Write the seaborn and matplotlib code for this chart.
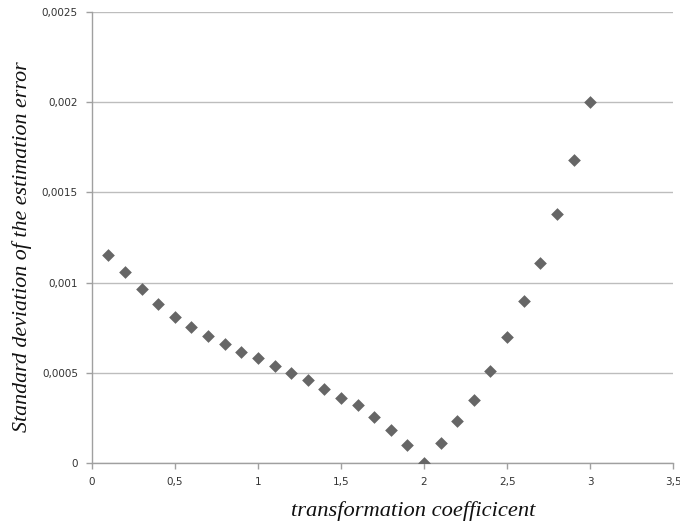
import matplotlib
matplotlib.use("Agg")
import matplotlib.pyplot as plt
import seaborn as sns
import pandas as pd
from matplotlib.ticker import FuncFormatter, MultipleLocator

coef = [0.1, 0.2, 0.3, 0.4, 0.5, 0.6, 0.7, 0.8, 0.9, 1.0,
        1.1, 1.2, 1.3, 1.4, 1.5, 1.6, 1.7, 1.8, 1.9, 2.0,
        2.1, 2.2, 2.3, 2.4, 2.5, 2.6, 2.7, 2.8, 2.9, 3.0]
std_err = [0.00115, 0.00106, 0.000965, 0.00088, 0.00081, 0.000754, 0.000704, 0.00066, 0.000615, 0.000582,
           0.000538, 0.0005, 0.00046, 0.00041, 0.00036, 0.00032, 0.000255, 0.000183, 0.0001, 0.0,
           0.00011, 0.00023, 0.00035, 0.00051, 0.0007, 0.0009, 0.00111, 0.00138, 0.00168, 0.002]

df = pd.DataFrame({"coef": coef, "std": std_err})

sns.set_style("white")
plt.rcParams['font.family'] = ['DejaVu Sans']

fig = plt.figure(figsize=(6.8, 5.24), dpi=100)
ax = fig.add_axes([0.135, 0.1164, 0.855, 0.861])

sns.scatterplot(data=df, x="coef", y="std", marker="D", s=42, color="#666666",
                edgecolor="#666666", linewidth=0, ax=ax, zorder=3)

ax.set_xlim(0, 3.5)
ax.set_ylim(0, 0.0025)
ax.xaxis.set_major_locator(MultipleLocator(0.5))
ax.yaxis.set_major_locator(MultipleLocator(0.0005))

def fmt(v, pos):
    s = f"{v:.4f}".rstrip("0").rstrip(".")
    return s.replace(".", ",")
ax.xaxis.set_major_formatter(FuncFormatter(fmt))
ax.yaxis.set_major_formatter(FuncFormatter(fmt))

ax.grid(axis="y", color="#bdbdbd", linewidth=1.0)
ax.set_axisbelow(True)
for sp in ["top", "right"]:
    ax.spines[sp].set_visible(False)
for sp in ["left", "bottom"]:
    ax.spines[sp].set_color("#a0a0a0")
    ax.spines[sp].set_linewidth(1.0)

ax.tick_params(axis="both", which="major", direction="out", length=4, width=1,
               color="#a0a0a0", labelsize=7.5, labelcolor="#333333", pad=6)
ax.tick_params(axis="x", bottom=True)
ax.tick_params(axis="y", left=True)

ax.set_xlabel("transformation coefficicent", family="Liberation Serif", style="italic",
              fontsize=16.2, color="#111111", labelpad=8)
ax.xaxis.set_label_coords(0.552, -0.085)
ax.set_ylabel("Standard deviation of the estimation error", family="Liberation Serif",
              style="italic", fontsize=15.8, color="#111111")
ax.yaxis.set_label_coords(-0.103, 0.48)

fig.savefig("out.png", dpi=100)
